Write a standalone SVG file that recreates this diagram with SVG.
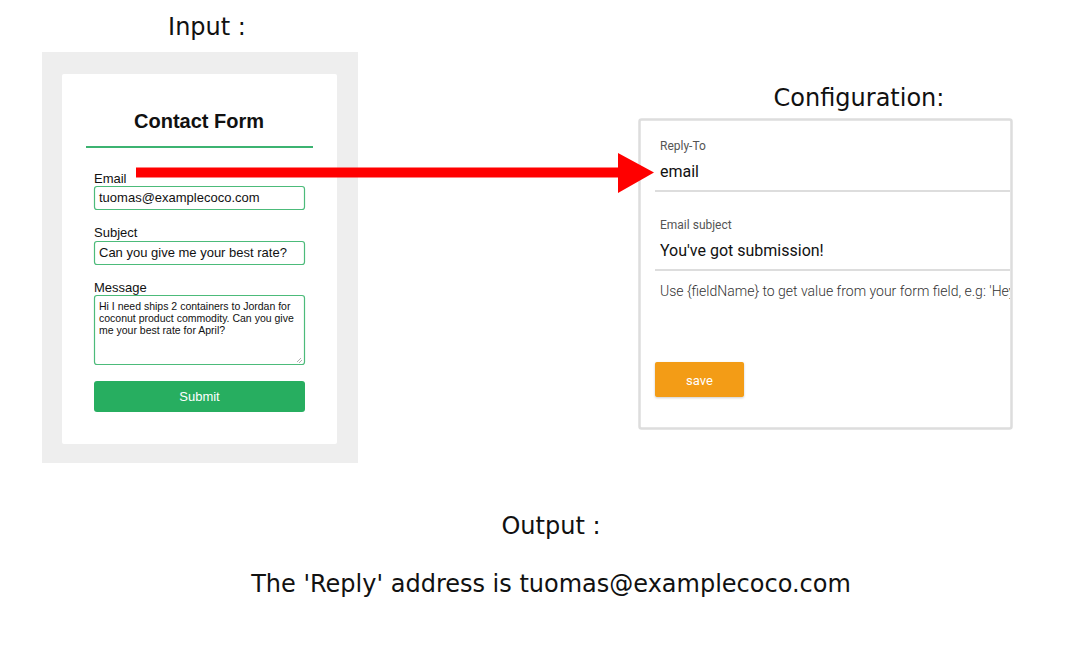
<svg xmlns="http://www.w3.org/2000/svg" width="1091" height="653" viewBox="0 0 1091 653">
<style>
.title{font-family:"DejaVu Sans",sans-serif;font-size:24px;fill:#111}
.f{font-family:"Liberation Sans",Arial,sans-serif;fill:#111}
.r{font-family:Roboto,"Liberation Sans",sans-serif}
.inp{fill:#fff;stroke:#4cbb7a;stroke-width:1.2}
</style>
<defs>
<clipPath id="cfgclip"><rect x="641" y="121" width="369" height="306"/></clipPath>
<filter id="sh" x="-10%" y="-10%" width="120%" height="140%"><feDropShadow dx="0" dy="1" stdDeviation="1" flood-color="#000" flood-opacity="0.2"/></filter>
</defs>
<rect width="1091" height="653" fill="#fff"/>
<text class="title" x="207" y="35" text-anchor="middle">Input :</text>
<text class="title" x="859" y="106" text-anchor="middle">Configuration:</text>
<text class="title" x="551" y="534" text-anchor="middle">Output :</text>
<text class="title" x="551" y="592" text-anchor="middle">The 'Reply' address is tuomas@examplecoco.com</text>

<g id="input-form">
<rect x="42" y="52" width="316" height="411" fill="#eeeeee"/>
<rect x="62" y="74" width="275" height="370" rx="2" fill="#fff"/>
<text class="f" x="199" y="128" text-anchor="middle" font-size="20" font-weight="bold">Contact Form</text>
<rect x="86" y="146" width="227" height="2" fill="#3cb371"/>
<text class="f" x="94" y="183" font-size="13">Email</text>
<rect class="inp" x="94.5" y="186.5" width="210" height="23" rx="2.5"/>
<text class="f" x="99" y="202" font-size="13">tuomas@examplecoco.com</text>
<text class="f" x="94" y="237" font-size="13">Subject</text>
<rect class="inp" x="94.5" y="241.5" width="210" height="23" rx="2.5"/>
<text class="f" x="99" y="257" font-size="13">Can you give me your best rate?</text>
<text class="f" x="94" y="292" font-size="13">Message</text>
<rect class="inp" x="94.5" y="295.5" width="210" height="69" rx="2.5"/>
<text class="f" font-size="10.5"><tspan x="99" y="310">Hi I need ships 2 containers to Jordan for</tspan><tspan x="99" y="322">coconut product commodity. Can you give</tspan><tspan x="99" y="334">me your best rate for April?</tspan></text>
<path d="M301 358 L297 362 M302 360 L299 363" stroke="#999" stroke-width="0.8"/>
<rect x="94" y="381" width="211" height="31" rx="3" fill="#27ae60"/>
<text class="f" x="199.5" y="401" text-anchor="middle" font-size="13" style="fill:#fff">Submit</text>
</g>

<g id="configuration">
<rect x="639.5" y="119.5" width="372" height="309" rx="2" fill="#fff" stroke="#dddddd" stroke-width="2.5"/>
<g clip-path="url(#cfgclip)">
<text class="r" x="660" y="150" font-size="12" fill="#555">Reply-To</text>
<text class="r" x="660" y="177" font-size="16" fill="#111">email</text>
<rect x="655" y="190.5" width="360" height="1" fill="#bbbbbb"/>
<text class="r" x="660" y="229" font-size="12" fill="#555">Email subject</text>
<text class="r" x="660" y="256" font-size="16" fill="#111">You've got submission!</text>
<rect x="655" y="269.5" width="360" height="1" fill="#bbbbbb"/>
<text class="r" x="660" y="296" font-size="14" font-weight="300" fill="#333">Use {fieldName} to get value from your form field, e.g: 'Hey {name}'</text>
<rect x="655" y="362" width="89" height="35" rx="2" fill="#f39c12" filter="url(#sh)"/>
<text class="r" x="699.5" y="385" text-anchor="middle" font-size="13" fill="#fff">save</text>
</g>
</g>

<g id="connectors">
<path d="M136 167.5 H618 V153 L654 172.5 L618 193 V177.5 H136 Z" fill="#ff0000"/>
</g>
</svg>
